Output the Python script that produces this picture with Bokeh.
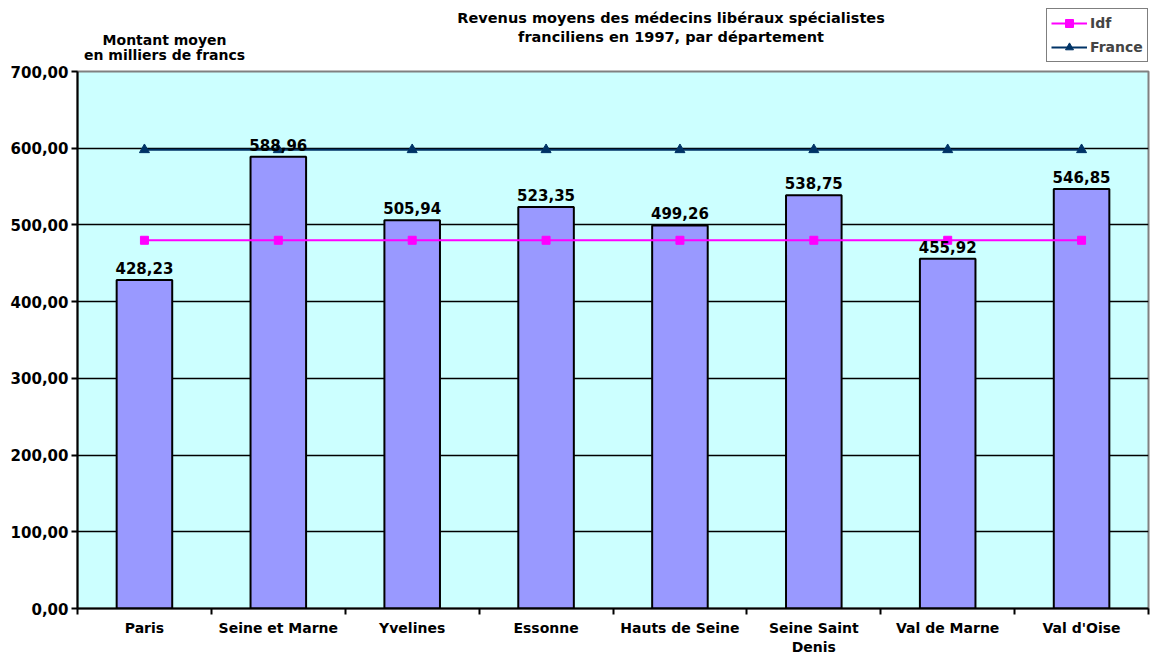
from bokeh.plotting import figure
from bokeh.models import ColumnDataSource, FixedTicker, Legend, LegendItem
from bokeh.layouts import column
from bokeh.core.properties import value
from bokeh.embed import file_html
from bokeh.resources import INLINE

categories = ["Paris", "Seine et Marne", "Yvelines", "Essonne", "Hauts de Seine",
              "Seine Saint\nDenis", "Val de Marne", "Val d'Oise"]
revenus = [428.23, 588.96, 505.94, 523.35, 499.26, 538.75, 455.92, 546.85]
idf = [480, 480, 480, 480, 480, 480, 480, 480]
france = [598, 598, 598, 598, 598, 598, 598, 598]
y_ticks = [0, 100, 200, 300, 400, 500, 600, 700]
title_lines = ["Revenus moyens des médecins libéraux spécialistes",
               "franciliens en 1997, par département"]
ytitle_lines = ["Montant moyen", "en milliers de francs"]

FONT = "DejaVu Sans"
W = 1150
H1 = 62
H2 = 595
FL, FR = 78, W - 2   # frame left / right in page pixels (frames are aligned in the column)

# ---------- header (titles + legend) ----------
hdr = figure(width=W, height=H1, output_backend="svg", toolbar_location=None,
             x_range=(FL, FR), y_range=(0, H1), x_axis_location=None, y_axis_location=None,
             min_border=0, min_border_left=0, min_border_right=0,
             min_border_top=0, min_border_bottom=0)
hdr.outline_line_color = None
hdr.grid.visible = False
hdr.background_fill_color = "white"

hdr.text(x=[671, 671], y=[H1 - 17, H1 - 36], text=title_lines, text_align="center",
         text_baseline="middle", text_font=value(FONT), text_font_style="bold",
         text_font_size="14.5px", text_color="black")
hdr.text(x=[165, 165], y=[H1 - 39, H1 - 54], text=ytitle_lines, text_align="center",
         text_baseline="middle", text_font=value(FONT), text_font_style="bold",
         text_font_size="14px", text_color="black")

d_idf_l = hdr.line([-100, -90], [-100, -100], line_color="#FF00FF", line_width=2)
d_idf_m = hdr.scatter([-100], [-100], marker="square", size=8,
                      fill_color="#FF00FF", line_color="#FF00FF")
d_fr_l = hdr.line([-100, -90], [-100, -100], line_color="#003366", line_width=2)
d_fr_m = hdr.scatter([-100], [-100], marker="triangle", size=10,
                     fill_color="#003366", line_color="#003366")
legend = Legend(items=[LegendItem(label="Idf", renderers=[d_idf_l, d_idf_m]),
                       LegendItem(label="France", renderers=[d_fr_l, d_fr_m])],
                location=(1047 - FL, 0))
legend.label_text_font = FONT
legend.label_text_font_style = "bold"
legend.label_text_font_size = "14px"
legend.border_line_color = "black"
legend.border_line_width = 1.5
legend.background_fill_color = "white"
legend.background_fill_alpha = 1
legend.glyph_width = 36
legend.glyph_height = 20
legend.label_height = 20
legend.padding = 4
legend.spacing = 4
legend.label_standoff = 3
legend.margin = 0
hdr.add_layout(legend)

# ---------- main chart ----------
xs = [i + 0.5 for i in range(len(categories))]
labels = [f"{v:.2f}".replace(".", ",") for v in revenus]
src = ColumnDataSource(dict(x=xs, top=revenus, idf=idf, france=france, lab=labels))

p = figure(width=W, height=H2, output_backend="svg", toolbar_location=None,
           x_range=(0, len(categories)), y_range=(0, 700),
           min_border_left=77, min_border_right=2, min_border_top=9, min_border_bottom=40)
p.background_fill_color = "#CCFFFF"
p.border_fill_color = "white"
p.outline_line_color = "#808080"
p.outline_line_width = 2

p.xgrid.visible = False
p.ygrid.grid_line_color = "black"
p.ygrid.grid_line_width = 1.5
p.yaxis.ticker = FixedTicker(ticks=y_ticks)
p.yaxis.major_label_overrides = {t: f"{t:.2f}".replace(".", ",") for t in y_ticks}
p.xaxis.ticker = FixedTicker(ticks=xs, minor_ticks=list(range(len(categories) + 1)))
p.xaxis.major_label_overrides = {x: c for x, c in zip(xs, categories)}

for ax in (p.xaxis, p.yaxis):
    ax.axis_line_color = "black"
    ax.axis_line_width = 2
    ax.major_label_text_font = FONT
    ax.major_label_text_font_style = "bold"
    ax.major_label_text_color = "black"
    ax.major_tick_line_color = "black"
    ax.major_tick_line_width = 2
    ax.minor_tick_line_color = "black"
    ax.minor_tick_line_width = 2
p.xaxis.major_label_text_font_size = "14px"
p.yaxis.major_label_text_font_size = "15px"
p.yaxis.major_tick_out = 6
p.yaxis.major_tick_in = 0
p.yaxis.minor_tick_out = 0
p.yaxis.major_label_standoff = 3
p.xaxis.major_tick_out = 0
p.xaxis.major_tick_in = 0
p.xaxis.minor_tick_out = 6
p.xaxis.minor_tick_in = 0
p.xaxis.major_label_standoff = 5

p.vbar(x="x", top="top", width=0.415, source=src, fill_color="#9999FF",
       line_color="black", line_width=2)

p.line("x", "france", source=src, line_color="#003366", line_width=2)
p.scatter("x", "france", source=src, marker="triangle", size=10,
          fill_color="#003366", line_color="#003366")
p.line("x", "idf", source=src, line_color="#FF00FF", line_width=2)
p.scatter("x", "idf", source=src, marker="square", size=8,
          fill_color="#FF00FF", line_color="#FF00FF")

p.text(x="x", y="top", text="lab", source=src, text_align="center",
       text_baseline="alphabetic", y_offset=-12, text_font=value(FONT),
       text_font_style="bold", text_font_size="15px", text_color="black")

layout = column(hdr, p, spacing=0)
open("out.html", "w").write(file_html(layout, INLINE))
